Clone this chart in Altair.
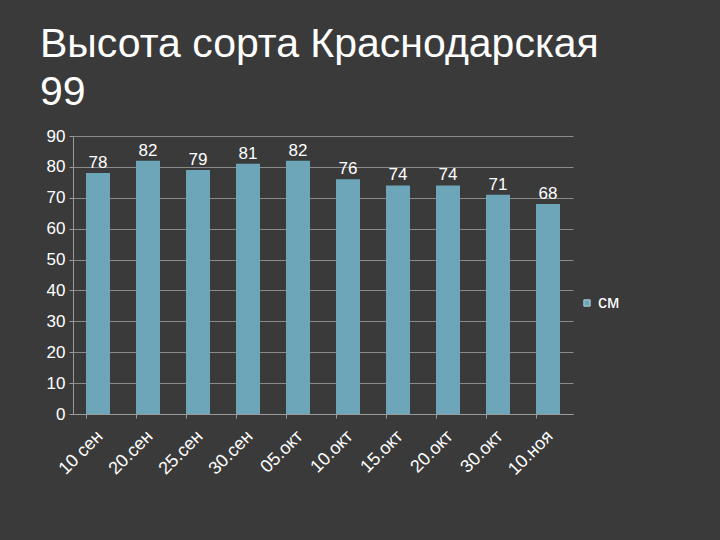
import altair as alt
import pandas as pd

dates = ["10 сен", "20.сен", "25.сен", "30.сен", "05.окт", "10.окт", "15.окт", "20.окт", "30.окт", "10.ноя"]
heights = [78, 82, 79, 81, 82, 76, 74, 74, 71, 68]
series = ["см"] * len(dates)

df = pd.DataFrame({"date": dates, "value": heights, "series": series})

FONT = "Liberation Sans"

base = alt.Chart(df).encode(
    x=alt.X("date:N", sort=dates, title=None,
            scale=alt.Scale(paddingInner=0.52, paddingOuter=0.26),
            axis=alt.Axis(labelAngle=-45, labelAlign="right", labelBaseline="top",
                          labelFontSize=18, labelColor="#ffffff", labelFont=FONT,
                          domainColor="#9a9a9a", tickColor="#9a9a9a", tickSize=4,
                          labelPadding=9, labelOffset=-4, grid=False, bandPosition=0)),
    y=alt.Y("value:Q", title=None,
            scale=alt.Scale(domain=[0, 90], nice=False),
            axis=alt.Axis(values=list(range(0, 91, 10)), labelFontSize=17,
                          labelColor="#ffffff", labelFont=FONT,
                          domainColor="#9a9a9a", tickColor="#9a9a9a", tickSize=4,
                          gridColor="#8a8a8a", gridWidth=1, labelPadding=4)),
)

bars = base.mark_bar(color="#6ca6b8").encode(
    color=alt.Color("series:N", scale=alt.Scale(range=["#6ca6b8"]),
                    legend=alt.Legend(title=None, orient="none", legendX=505, legendY=158,
                                      symbolType="square", symbolSize=40,
                                      symbolStrokeColor="#b0d0da", symbolStrokeWidth=1,
                                      labelFontSize=18, labelColor="#ffffff", labelFont=FONT,
                                      labelFontWeight="normal", labelOffset=2))
)

labels = base.mark_text(dy=-10, fontSize=17, color="#ffffff", font=FONT).encode(
    text="value:Q"
)

chart = (bars + labels).properties(
    width=500, height=278,
    title=alt.Title(["Высота сорта Краснодарская", "99"], anchor="start", frame="group",
                    fontSize=41, font=FONT, fontWeight="normal", color="#ffffff",
                    dx=-33, offset=13, lineHeight=48),
    padding={"left": 73, "top": 136, "right": 147, "bottom": 126},
    autosize=alt.AutoSizeParams(type="none"),
    background="#3a3a3a",
).configure_view(stroke=None)

chart.save("out.html", embed_options={"renderer": "svg", "actions": False})
